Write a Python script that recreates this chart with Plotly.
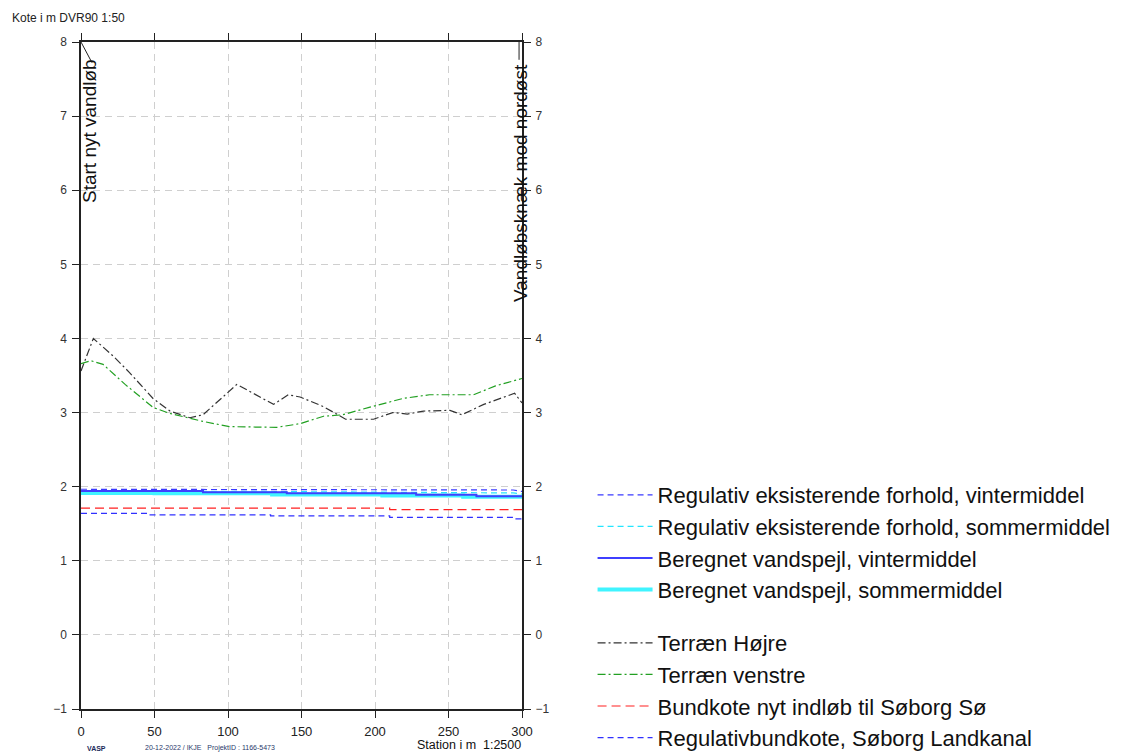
import plotly.graph_objects as go

# Længdeprofil – stationering (m) og koter (m DVR90)
terraen_hojre_st = [0, 8.4, 22, 33, 49, 60.5, 74, 83, 106, 118, 131, 141, 149, 165, 180, 199, 212, 222, 233, 251, 259, 274, 295, 300]
terraen_hojre = [3.56, 4.0, 3.76, 3.54, 3.19, 3.02, 2.93, 2.97, 3.38, 3.25, 3.11, 3.24, 3.21, 3.08, 2.91, 2.91, 3.0, 2.98, 3.02, 3.03, 2.97, 3.11, 3.26, 3.13]

terraen_venstre_st = [0, 6.6, 15, 30, 49, 60, 83, 101, 133, 149, 165, 178, 196, 219, 237, 267, 282, 300]
terraen_venstre = [3.66, 3.7, 3.65, 3.38, 3.07, 2.99, 2.88, 2.81, 2.80, 2.85, 2.95, 2.97, 3.07, 3.19, 3.24, 3.24, 3.36, 3.46]

reg_st = [0, 45, 87, 129, 170, 210, 252, 294, 300]
reg_vinter = [1.965, 1.965, 1.96, 1.96, 1.955, 1.955, 1.955, 1.955, 1.935]
reg_sommer = [1.945, 1.945, 1.94, 1.935, 1.93, 1.925, 1.92, 1.915, 1.90]

ber_vinter_st = [0, 83, 140, 228, 269, 300]
ber_vinter = [1.94, 1.925, 1.91, 1.89, 1.87, 1.87]
ber_sommer_st = [0, 50, 130, 205, 260, 300]
ber_sommer = [1.915, 1.91, 1.895, 1.88, 1.865, 1.865]

bundkote_st = [0, 210, 300]
bundkote = [1.71, 1.69, 1.69]

regbund_st = [0, 45, 129, 210, 294, 300]
regbund = [1.64, 1.62, 1.605, 1.585, 1.565, 1.565]

x_ticks = [0, 50, 100, 150, 200, 250, 300]
y_ticks = [-1, 0, 1, 2, 3, 4, 5, 6, 7, 8]

FONT = "Liberation Sans, Arial, sans-serif"

# Plotområde i pixel
L, R, T, B = 81, 522, 42, 709
W, H = 1128, 753
PW, PH = R - L, B - T


def px_x(p):
    return (p - L) / PW


def px_y(p):
    return (B - p) / PH


fig = go.Figure()


def add(x, y, name, color, dash, width, legend, rank, shape="linear"):
    fig.add_trace(go.Scatter(
        x=x, y=y, name=name, mode="lines", legend=legend, legendrank=rank,
        line=dict(color=color, dash=dash, width=width, shape=shape),
        hoverinfo="skip",
    ))


# Vandspejle (første legende)
add(reg_st, reg_vinter, "Regulativ eksisterende forhold, vintermiddel", "#3a3aff", "6px,4px", 1.2, "legend", 1)
add(reg_st, reg_sommer, "Regulativ eksisterende forhold, sommermiddel", "#22e5ff", "6px,4px", 1.2, "legend", 2)
add(ber_sommer_st, ber_sommer, "Beregnet vandspejl, sommermiddel", "#40f4ff", "solid", 4, "legend", 4, "hv")
add(ber_vinter_st, ber_vinter, "Beregnet vandspejl, vintermiddel", "#3f3fff", "solid", 2, "legend", 3, "hv")

# Terræn og bundkoter (anden legende)
add(terraen_hojre_st, terraen_hojre, "Terræn Højre", "#333333", "8px,3px,2px,3px", 1.2, "legend2", 5)
add(terraen_venstre_st, terraen_venstre, "Terræn venstre", "#22a022", "8px,3px,2px,3px", 1.2, "legend2", 6)
add(bundkote_st, bundkote, "Bundkote nyt indløb til Søborg Sø", "#ff2020", "9px,5px", 1.2, "legend2", 7, "hv")
add(regbund_st, regbund, "Regulativbundkote, Søborg Landkanal", "#3030ff", "6px,4px", 1.2, "legend2", 8, "hv")

# Usynligt spor til højre koteakse
fig.add_trace(go.Scatter(x=[0], y=[0], yaxis="y2", mode="markers",
                         marker=dict(opacity=0), showlegend=False, hoverinfo="skip"))

grid = dict(showgrid=True, gridcolor="#cfcfcf", griddash="7px,5px", gridwidth=1.2, zeroline=False)
line = dict(showline=True, linecolor="#222222", linewidth=1.5,
            ticks="outside", tickcolor="#222222", tickwidth=1.2)

fig.update_layout(
    width=W, height=H,
    margin=dict(l=L, r=W - R, t=T, b=H - B, autoexpand=False),
    paper_bgcolor="white", plot_bgcolor="white",
    font=dict(family=FONT, color="#111111"),
    xaxis=dict(range=[0, 300], tickvals=x_ticks, mirror="allticks", ticklen=7,
               ticklabelstandoff=3,
               tickfont=dict(family=FONT, size=13, color="#222222"), **grid, **line),
    yaxis=dict(range=[-1, 8], tickvals=y_ticks, mirror="allticks", ticklen=7,
               ticklabelstandoff=3,
               tickfont=dict(family=FONT, size=12, color="#333333"), **grid, **line),
    yaxis2=dict(range=[-1, 8], tickvals=y_ticks, overlaying="y", side="right",
                showline=False, ticks="outside", ticklen=7, tickcolor="#222222",
                showgrid=False, zeroline=False, ticklabelstandoff=3,
                tickfont=dict(family=FONT, size=12, color="#333333")),
    legend=dict(x=1.16, y=px_y(474), xanchor="left", yanchor="top",
                font=dict(family=FONT, size=22, color="#111111"),
                itemwidth=55, bgcolor="rgba(0,0,0,0)", traceorder="normal"),
    legend2=dict(x=1.16, y=px_y(622), xanchor="left", yanchor="top",
                 font=dict(family=FONT, size=22, color="#111111"),
                 itemwidth=55, bgcolor="rgba(0,0,0,0)", traceorder="normal"),
    showlegend=True,
)

# Markeringer ved profilens start og knæk
fig.add_shape(type="line", xref="x", yref="y", x0=0, y0=8, x1=7.5, y1=7.72,
              line=dict(color="#222222", width=1))
fig.add_shape(type="line", xref="x", yref="y", x0=298, y0=8, x1=298, y1=7.76,
              line=dict(color="#222222", width=1))

fig.add_annotation(x=px_x(89), y=px_y(131), xref="paper", yref="paper", text="Start nyt vandløb",
                   textangle=-90, showarrow=False, xanchor="center", yanchor="middle",
                   font=dict(family=FONT, size=19, color="#111111"))
fig.add_annotation(x=px_x(520), y=px_y(183), xref="paper", yref="paper", text="Vandløbsknæk mod nordøst",
                   textangle=-90, showarrow=False, xanchor="center", yanchor="middle",
                   font=dict(family=FONT, size=19, color="#111111"))

# Aksetitler og sidefod
fig.add_annotation(x=px_x(10), y=px_y(18), xref="paper", yref="paper", text="Kote i m DVR90 1:50",
                   showarrow=False, xanchor="left", yanchor="middle",
                   font=dict(family=FONT, size=12, color="#222222"))
fig.add_annotation(x=px_x(523), y=px_y(744.5), xref="paper", yref="paper",
                   text="Station i m  1:2500", showarrow=False, xanchor="right", yanchor="middle",
                   font=dict(family=FONT, size=12.5, color="#111111"))
fig.add_annotation(x=px_x(96), y=px_y(748), xref="paper", yref="paper",
                   text="<b>VASP</b>", showarrow=False, xanchor="center", yanchor="middle",
                   font=dict(family=FONT, size=7, color="#1a2a5a"))
fig.add_annotation(x=px_x(143), y=px_y(748), xref="paper", yref="paper",
                   text="20-12-2022 / IKJE   ProjektID : 1166-5473", showarrow=False,
                   xanchor="left", yanchor="middle",
                   font=dict(family=FONT, size=7, color="#2a3a6a"))

fig.write_html("out.html")
